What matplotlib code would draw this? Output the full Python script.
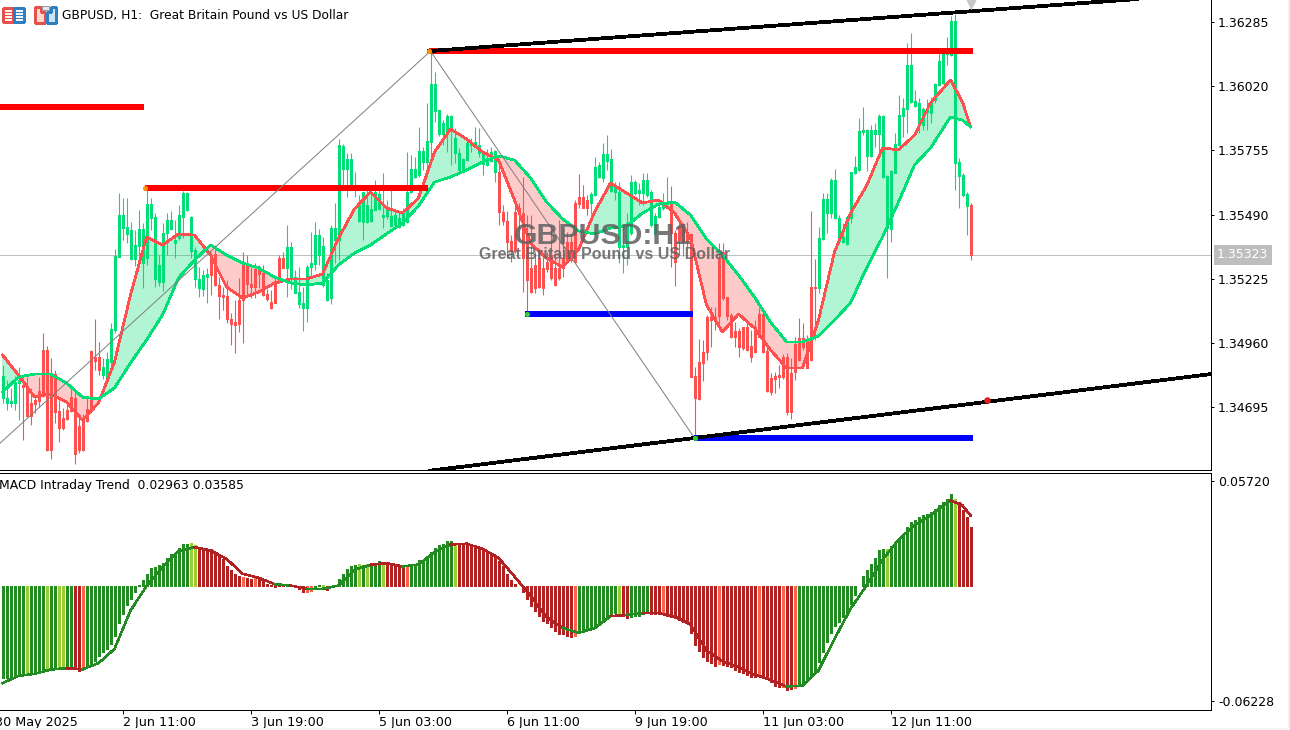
import matplotlib
matplotlib.use("Agg")
import matplotlib.pyplot as plt
from matplotlib.patches import Rectangle, Polygon
import numpy as np

# candles, prices in points (1.35323 = 135323)
opens = [134732,134712,134712,134712,134794,
    134786,134774,134712,134724,134761,134931,134931,134836,134831,134679,134650,134683,134736,134732,134617,134650,134687,134926,134902,134902,
    134827,134819,134881,135013,135315,135434,135410,135306,135306,135360,135290,135310,135476,135224,135211,135211,135414,135430,135372,135393,135480,135509,135339,135224,135187,135182,135232,
    135323,135327,135199,135158,135153,135059,135046,135137,135290,135290,135203,135265,135265,135249,135162,135129,135215,135310,135310,
    135269,135232,135166,135120,135104,135104,135273,135286,135323,135199,135137,135145,135385,135385,135678,135678,135612,135591,135463,135459,135459,135463,135509,135513,135480,135484,135443,135447,135438,135447,135459,135583,135645,135653,135707,135707,135790,135918,135823,135823,135827,135847,135744,135674,135678,135715,135777,135777,135744,135699,135695,135711,135666,
    135666,135500,135463,135381,135500,135517,135496,135397,135269,135282,135310,135269,135294,135323,135269,135269,135310,135377,135377,135538,135562,135562,135550,
    135538,135571,135645,135641,135711,135587,135583,135356,135356,135356,135414,135579,135579,135579,135571,135447,135410,135480,135517,135533,
    135538,135414,135443,135438,135414,135410,134823,134881,134922,135067,135071,135067,135310,135335,135149,135075,135009,135009,135025,135025,134947,135025,135079,135079,134926,134815,134823,134827,134902,134902,134836,134955,134980,134980,134968,135191,135191,
    135187,135389,135496,135496,135476,135381,135377,135368,135476,135662,135674,135831,135732,135732,135823,135823,135645,135434,135430,135662,135777,135897,135926,135955,135938,135868,135860,135913,135909,135963,136025,136033,136153,136149,135703,135649,135571,135525,
    135529]
closes = [134823,134732,134720,134798,134807,
    134778,134658,134658,134707,134720,134753,134518,134518,134674,134608,134608,134646,134679,134501,134518,134518,134637,134683,134885,134848,
    134860,134893,135017,135319,135488,135488,135438,135426,135364,135430,135430,135533,135533,135480,135282,135414,135467,135467,135385,135488,135579,135579,135480,135344,135224,135240,135244,
    135240,135199,135153,135149,135059,135038,135034,135038,135137,135203,135191,135191,135244,135158,135141,135104,135125,135215,135269,
    135356,135356,135232,135170,135125,135273,135290,135405,135405,135360,135220,135434,135434,135777,135773,135719,135719,135612,135538,135583,135529,135513,135583,135575,135488,135517,135484,135488,135476,135496,135583,135678,135678,135752,135752,135794,136029,136029,135922,135868,135897,135897,135806,135744,135719,135785,135785,135790,135777,135744,135723,135748,135752,
    135500,135463,135377,135339,135339,135496,135310,135220,135170,135187,135191,135187,135265,135228,135199,135228,135269,135294,135302,135294,135533,135517,135517,
    135575,135686,135695,135740,135740,135719,135612,135583,135364,135455,135624,135624,135591,135633,135633,135583,135484,135521,135542,135542,
    135414,135294,135385,135377,135381,134819,134732,134728,134877,134922,135054,135050,135071,135145,135071,134984,134984,134943,134939,134931,134902,134922,134984,134922,134761,134757,134811,134819,134819,134674,134674,134840,134889,134943,134856,134889,135187,
    135393,135554,135554,135633,135633,135476,135397,135480,135666,135686,135835,135839,135839,135839,135839,135897,135897,135649,135670,135781,135901,135930,136108,136108,135959,135951,135926,135926,135955,136029,136124,136157,136157,136289,136289,135707,135653,135575,
    135323]
highs = [134869,134807,134774,134823,134860,134815,134819,134774,134745,134819,
    135001,134947,134897,134848,134724,134691,134712,134774,134765,134662,
    134666,134732,134931,135059,134964,134897,134922,135042,135348,135579,
    135558,135558,135459,135426,135509,135455,135591,135558,135496,135323,
    135455,135496,135505,135467,135529,135587,135583,135484,135356,135273,
    135261,135269,135335,135364,135232,135191,135220,135083,135137,135228,
    135335,135323,135273,135290,135282,135282,135182,135178,135232,135323,
    135335,135447,135377,135261,135273,135191,135282,135418,135459,135430,
    135397,135249,135447,135538,135802,135781,135744,135744,135666,135571,
    135583,135591,135583,135633,135604,135662,135550,135612,135509,135496,
    135517,135748,135736,135728,135852,135769,135951,136165,136079,135922,
    135880,135905,135901,135847,135765,135723,135810,135806,135852,135847,
    135748,135761,135769,135757,135695,135529,135505,135405,135529,135538,
    135645,135488,135488,135335,135335,135323,135335,135447,135310,135467,
    135434,135418,135405,135550,135657,135612,135571,135583,135728,135707,
    135785,135818,135761,135624,135624,135438,135496,135653,135633,135620,
    135662,135662,135591,135496,135542,135579,135645,135608,135426,135455,
    135455,135459,135414,134860,134976,134972,135075,135108,135108,135372,
    135372,135149,135083,135046,135021,135025,135054,135013,135054,135104,
    135087,134943,134835,134840,134869,134914,134918,134897,134984,135063,
    135042,134993,135505,135306,135438,135579,135579,135641,135678,135488,
    135455,135480,135666,135732,135889,135934,135843,135860,135868,135905,
    135901,135653,135674,135827,135984,135971,136198,136240,136004,135971,
    135934,135967,135975,136033,136161,136157,136223,136310,136318,135723,
    135662,135583,135538]
lows = [134712,134683,134695,134683,134641,134559,134654,134621,134670,134695,
    134736,134513,134480,134629,134551,134600,134641,134674,134460,134505,
    134513,134633,134670,134848,134827,134811,134807,134848,135001,135315,
    135385,135372,135302,135277,135310,135187,135282,135426,135191,135195,
    135174,135323,135426,135310,135385,135393,135505,135310,135191,135149,
    135153,135125,135158,135195,135059,135096,135042,134951,134918,135005,
    134960,135149,135145,135145,135187,135153,135133,135100,135125,135207,
    135269,135149,135182,135166,135104,135009,135046,135232,135261,135282,
    135191,135133,135120,135290,135302,135600,135562,135608,135562,135459,
    135385,135455,135459,135509,135509,135434,135472,135438,135443,135434,
    135443,135455,135579,135641,135645,135674,135645,135707,135872,135814,
    135777,135748,135695,135703,135666,135662,135711,135748,135769,135728,
    135653,135690,135707,135624,135447,135447,135310,135294,135331,135381,
    135170,135075,135166,135166,135187,135158,135253,135220,135195,135220,
    135232,135290,135294,135290,135517,135517,135488,135492,135567,135641,
    135624,135674,135583,135550,135290,135249,135282,135405,135571,135529,
    135529,135562,135438,135405,135476,135509,135521,135273,135195,135323,
    135319,135356,134819,134567,134724,134802,134889,134943,135013,135013,
    135137,135054,134980,134943,134902,134931,134926,134881,134918,134984,
    134918,134757,134745,134753,134774,134811,134662,134646,134807,134885,
    134931,134856,134885,134972,135166,135385,135414,135476,135472,135377,
    135372,135364,135455,135657,135670,135818,135670,135728,135769,135748,
    135641,135228,135377,135662,135773,135810,135827,135951,135934,135827,
    135839,135839,135868,135951,136021,136029,136108,136145,135591,135517,
    135562,135405,135302]

# moving averages read every 4th bar, plus the turn near the end
ma_bars = list(range(0, 236, 4)) + [237, 240, 242]
ma_fast = [134910,134827,134736,134749,134716,134641,134712,134881,135158,135397,135364,135410,135405,
    135323,135191,135145,135170,135207,135224,135224,135244,135393,135513,135583,135517,
    135496,135558,135748,135843,135802,135748,135715,135550,135372,135310,135273,135344,135500,
    135620,135579,135538,135550,135496,135393,135116,135005,135079,135021,134931,134856,
    134856,135054,135335,135496,135608,135765,135757,135818,135951,136046,135955,135852]
ma_slow = [134757,134819,134831,134831,134794,134736,134728,134774,134877,134972,135075,135228,135302,
    135364,135323,135290,135269,135232,135207,135199,135207,135282,135331,135364,135410,
    135455,135525,135624,135645,135674,135707,135732,135715,135641,135542,135472,135422,135410,
    135434,135443,135496,135533,135542,135488,135389,135323,135240,135149,135046,134964,
    134964,134988,135054,135125,135269,135397,135542,135695,135765,135893,135880,135852]

# support / resistance levels: start bar, end bar, price
red_starts = [-0.6, 35.6, 106.6]
red_ends = [35.4, 106.4, 242.6]
red_prices = [135934, 135600, 136165]
blue_starts = [130.7, 172.9]
blue_ends = [172.6, 242.6]
blue_prices = [135079, 134567]

zigzag_bars = [-0.6, 107, 173]
zigzag_prices = [134546, 136165, 134567]

channel_top_bars = [106.6, 283.7]
channel_top_prices = [136165, 136380]
channel_low_bars = [106.9, 302.1]
channel_low_prices = [134432, 134831]

last_price = 135323

macd_hist = [-0.04979,-0.04979,-0.04907,-0.04852,-0.04798,-0.04798,-0.04762,-0.04762,-0.04708,-0.04671,
    -0.04581,-0.04527,-0.04490,-0.04490,-0.04436,-0.04436,-0.04436,-0.04454,-0.04454,-0.04581,
    -0.04490,-0.04400,-0.04255,-0.04038,-0.03766,-0.03585,-0.03404,-0.03132,-0.02680,-0.02010,
    -0.01503,-0.01014,-0.00688,-0.00326,0.00072,0.00308,0.00670,0.00996,0.01032,0.01123,
    0.01267,0.01539,0.01720,0.01811,0.02082,0.02263,0.02299,0.02336,0.02209,0.02082,
    0.02028,0.01883,0.01992,0.01756,0.01611,0.01448,0.01086,0.00851,0.00634,0.00525,
    0.00489,0.00453,0.00398,0.00453,0.00398,0.00253,0.00127,0.00072,-0.00054,0.00072,
    0.00036,0.00036,0.0,-0.00054,-0.00181,-0.00326,-0.00326,-0.00272,-0.00145,0.00036,
    0.00036,-0.00235,-0.00054,0.00036,0.00362,0.00634,0.00905,0.01068,0.01159,0.01177,
    0.01123,0.01213,0.01177,0.01213,0.01340,0.01213,0.01267,0.01177,0.01141,0.01086,
    0.00978,0.01032,0.01123,0.01213,0.01394,0.01430,0.01539,0.01847,0.02064,0.02209,
    0.02263,0.02426,0.02426,0.02336,0.02299,0.02263,0.02263,0.02245,0.02209,0.02118,
    0.01992,0.01883,0.01811,0.01666,0.01358,0.01068,0.00670,0.00344,0.00127,-0.00018,
    -0.00326,-0.00688,-0.01050,-0.01322,-0.01630,-0.01865,-0.02010,-0.02191,-0.02408,-0.02589,
    -0.02589,-0.02680,-0.02770,-0.02680,-0.02535,-0.02498,-0.02372,-0.02263,-0.02136,-0.02010,
    -0.01774,-0.01593,-0.01539,-0.01466,-0.01503,-0.01630,-0.01738,-0.01648,-0.01630,-0.01593,
    -0.01503,-0.01466,-0.01503,-0.01503,-0.01503,-0.01503,-0.01593,-0.01684,-0.01738,-0.01829,
    -0.01919,-0.02010,-0.02553,-0.03169,-0.03531,-0.03857,-0.04038,-0.04183,-0.04309,-0.04219,
    -0.04255,-0.04309,-0.04400,-0.04527,-0.04635,-0.04708,-0.04798,-0.04943,-0.04943,-0.04852,
    -0.04943,-0.05033,-0.05214,-0.05395,-0.05450,-0.05450,-0.05613,-0.05577,-0.05541,-0.05395,
    -0.05305,-0.05088,-0.04852,-0.04579,-0.04092,-0.03585,-0.03042,-0.02553,-0.02173,-0.01955,
    -0.01684,-0.01412,-0.00960,-0.00507,0.0,0.00525,0.00851,0.01213,0.01539,0.01937,
    0.01992,0.01992,0.02155,0.02263,0.02571,0.02843,0.03205,0.03476,0.03567,0.03748,
    0.03838,0.03929,0.04020,0.04201,0.04418,0.04563,0.04744,0.05015,0.04744,0.04563,
    0.04110,0.03748,0.03205]
macd_signal = [-0.05267,-0.04869,-0.04760,-0.04525,-0.04453,-0.04507,-0.04181,-0.03403,-0.01321,0.0,
    0.01032,0.01901,0.02118,0.01937,0.01484,0.00670,0.00453,0.00109,0.00036,-0.00145,
    -0.00145,0.00036,0.00887,0.01158,0.01249,0.01068,0.01177,0.01846,0.02263,0.02299,
    0.02027,0.01539,0.00525,-0.00525,-0.01683,-0.02263,-0.02534,-0.02281,-0.01629,-0.01557,
    -0.01466,-0.01466,-0.01647,-0.02082,-0.03493,-0.04073,-0.04398,-0.04797,-0.05086,-0.05448,
    -0.05394,-0.04579,-0.02860,-0.01231,0.00036,0.01430,0.02516,0.03294,0.03837,0.04650,
    0.04380,0.03837]

# histogram colour runs
hist_run_colors = list("glglglgrsglrsrsrrgrsglrglglglrsglrsglrgrsrsrsrsrsglglr")
hist_run_lengths = [6,1,4,1,2,2,2,2,1,26,2,11,1,2,1,5,2,2,3,2,2,1,1,7,1,1,1,3,1,5,1,11,1,29,1,10,1,2,5,3,1,13,1,9,1,5,1,2,1,22,1,16,1,4]

price_ticks = [1.36285, 1.36020, 1.35755, 1.35490, 1.35225, 1.34960, 1.34695]
macd_ticks = [0.05720, -0.06228]
time_tick_bars = [-2, 30, 62, 94, 126, 158, 190, 222]
time_labels = ["30 May 2025", "2 Jun 11:00", "3 Jun 19:00", "5 Jun 03:00",
               "6 Jun 11:00", "9 Jun 19:00", "11 Jun 03:00", "12 Jun 11:00"]

GREEN = "#00DE76"
RED = "#FF5050"
palette = {"g": "#228B22", "l": "#9ACD32", "r": "#B22222", "s": "#FF6347"}
BODY_LW = 2.16  # 3 px at dpi 100

plt.rcParams["lines.antialiased"] = False
plt.rcParams["patch.antialiased"] = False

W, H = 1290, 730
fig = plt.figure(figsize=(W / 100, H / 100), dpi=100, facecolor="white")

# page furniture in pixel coords
bg = fig.add_axes([0, 0, 1, 1], zorder=10)
bg.set_xlim(0, W)
bg.set_ylim(H, 0)
bg.axis("off")
bg.patch.set_alpha(0)
bg.add_patch(Rectangle((1288, 0), 2, H, fc="#EFEFEF", ec="none"))
bg.add_patch(Rectangle((0, 728), W, 2, fc="#F4F4F4", ec="none"))
# toolbar icons
bg.add_patch(Rectangle((3, 8), 10, 14, fc="#FFF4F4", ec="#E8504A", lw=0.8))
bg.add_patch(Rectangle((14, 8), 10, 14, fc="#F2F8FF", ec="#2F7FC0", lw=0.8))
for yy in [12, 15, 18]:
    bg.plot([5, 12], [yy, yy], color="#E8504A", lw=0.72)
    bg.plot([16, 23], [yy, yy], color="#2F7FC0", lw=0.72)
bg.add_patch(Polygon([(35, 7), (41, 7), (41, 12), (45, 12), (45, 23), (35, 23)], fc="#FFD8D0", ec="#E8504A", lw=0.8))
bg.add_patch(Polygon([(47, 12), (51, 12), (51, 7), (56, 7), (56, 23), (47, 23)], fc="#C8E4F8", ec="#2F7FC0", lw=0.8))
bg.add_patch(Rectangle((42, 6), 7, 4, fc="#E8E8E8", ec="#999999", lw=0.72))
bg.text(62, 15, "GBPUSD, H1:  Great Britain Pound vs US Dollar", fontsize=8.8, va="center", color="black")
bg.text(-1, 485, "MACD Intraday Trend  0.02963 0.03585", fontsize=8.9, va="center", color="black")

ax = fig.add_axes([0, 1 - 470 / H, 1211 / W, 470 / H])
ax2 = fig.add_axes([0, 1 - 710 / H, 1211 / W, 237 / H])

bars = np.arange(len(opens))
o = np.array(opens) / 1e5
c = np.array(closes) / 1e5
hi = np.array(highs) / 1e5
lo = np.array(lows) / 1e5
ma_x = np.array(ma_bars)
fast = np.array(ma_fast) / 1e5
slow = np.array(ma_slow) / 1e5

# cloud between the averages
ax.fill_between(ma_x, fast, slow, where=fast >= slow, interpolate=True, color=GREEN, alpha=0.3, lw=0, zorder=2)
ax.fill_between(ma_x, fast, slow, where=fast < slow, interpolate=True, color=RED, alpha=0.3, lw=0, zorder=2)

ax.axhline(last_price / 1e5, color="#C0C0C0", lw=0.72, zorder=1)

# candles
colors = [GREEN if c[i] >= o[i] else RED for i in bars]
ax.vlines(bars, lo, hi, colors=colors, lw=0.78, antialiased=True, capstyle="butt", zorder=3)
body_low = np.minimum(o, c)
body_high = np.maximum(body_low + 0.00004, np.maximum(o, c))
ax.vlines(bars, body_low, body_high, colors=colors, lw=BODY_LW, capstyle="butt", zorder=3)

ax.plot(ma_x, fast, color=RED, lw=1.25, zorder=4)
ax.plot(ma_x, slow, color=GREEN, lw=1.25, zorder=4)

# levels
for s, e, p in zip(red_starts, red_ends, red_prices):
    ax.plot([s, e], [p / 1e5, p / 1e5], color="#FF0000", lw=3, solid_capstyle="butt", zorder=5)
for s, e, p in zip(blue_starts, blue_ends, blue_prices):
    ax.plot([s, e], [p / 1e5, p / 1e5], color="#0000FF", lw=3, solid_capstyle="butt", zorder=5)

ax.plot(zigzag_bars, np.array(zigzag_prices) / 1e5, color="#808080", lw=0.72, zorder=5, antialiased=True)
ax.plot(channel_top_bars, np.array(channel_top_prices) / 1e5, color="black", lw=2, zorder=6)
ax.plot(channel_low_bars, np.array(channel_low_prices) / 1e5, color="black", lw=2, zorder=6)

# pivot dots
ax.scatter([35.5, 106.6], [1.35600, 1.36165], s=14, color="#FF9000", lw=0, zorder=7)
ax.scatter([131, 173], [1.35079, 1.34567], s=14, color="#30D030", lw=0, zorder=7)
ax.scatter([246], [1.34725], s=22, color="#E02020", lw=0, zorder=7, antialiased=True)
ax.scatter([242], [1.36360], s=70, marker="v", color="#C8C8C8", lw=0, zorder=7, clip_on=True)

# watermark
ax.text(150, 1.35401, "GBPUSD:H1", fontsize=21.8, fontweight="bold", family="Liberation Sans",
        color="#606060", alpha=0.85, ha="center", va="center", zorder=8)
ax.text(150.5, 1.35323, "Great Britain Pound vs US Dollar", fontsize=11.5, fontweight="bold", family="Liberation Sans",
        color="#606060", alpha=0.85, ha="center", va="center", zorder=8)

ax.set_xlim(-0.625, 302.125)
ax.set_ylim(1.34435, 1.36376)
ax.yaxis.tick_right()
ax.set_yticks(price_ticks)
ax.set_yticklabels(["%.5f" % t for t in price_ticks])
ax.set_xticks([])
for sp in ["top", "left"]:
    ax.spines[sp].set_visible(False)

ax.text(1217 / 1211, last_price / 1e5, "%.5f" % (last_price / 1e5), transform=ax.get_yaxis_transform(),
        fontsize=9, color="white", va="center", ha="left",
        bbox=dict(fc="#BEBEBE", ec="none", pad=2.4), clip_on=False, zorder=9)

# MACD panel
hist_state = np.repeat(hist_run_colors, hist_run_lengths)
hist_colors = [palette[s] for s in hist_state]
ax2.vlines(bars, 0, macd_hist, colors=hist_colors, lw=BODY_LW, capstyle="butt", zorder=2)

for k in range(len(ma_bars) - 1):
    state = hist_state[ma_bars[k + 1]]
    col = palette["g"] if state in "gl" else palette["r"]
    ax2.plot(ma_bars[k:k + 2], macd_signal[k:k + 2], color=col, lw=1.1, zorder=3)

ax2.set_xlim(-0.625, 302.125)
ax2.set_ylim(-0.0672, 0.0614)
ax2.yaxis.tick_right()
ax2.set_yticks(macd_ticks)
ax2.set_yticklabels(["%.5f" % t for t in macd_ticks])
ax2.set_xticks([b for b in time_tick_bars if b >= 0])
ax2.set_xticklabels([])
for b, lab in zip(time_tick_bars, time_labels):
    ax2.text(b + 0.2, -0.0738, lab, fontsize=9.2, ha="left", va="center", clip_on=False)
for sp in ["left"]:
    ax2.spines[sp].set_visible(False)

for a in (ax, ax2):
    a.tick_params(axis="y", length=2.5, width=0.72, pad=2.5, labelsize=9)
    a.tick_params(axis="x", length=3, width=0.72)
    for sp in a.spines.values():
        sp.set_linewidth(0.72)

fig.savefig("out.png", dpi=100)
